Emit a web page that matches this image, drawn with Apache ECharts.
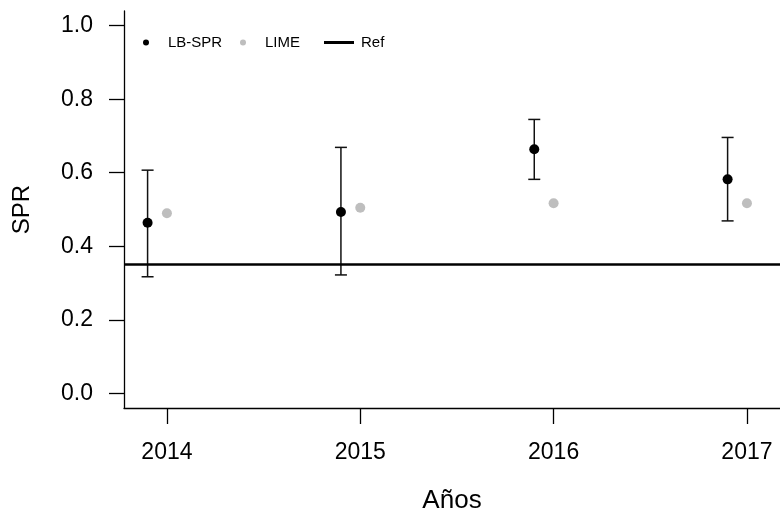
<!DOCTYPE html>
<html>
<head>
<meta charset="utf-8">
<script src="https://cdn.jsdelivr.net/npm/echarts@6/dist/echarts.min.js"></script>
<style>
  html, body { margin: 0; padding: 0; background: #fff; }
  #main { width: 780px; height: 515px; }
</style>
</head>
<body>
<div id="main"></div>
<script>
var years = [2014, 2015, 2016, 2017];
var lbX = [2013.9, 2014.9, 2015.9, 2016.9];
var lbSpr = [0.464, 0.493, 0.664, 0.582];
var lbLow = [0.317, 0.322, 0.582, 0.469];
var lbHigh = [0.607, 0.669, 0.745, 0.696];
var lime = [0.49, 0.505, 0.517, 0.517];
var refValue = 0.35;
var yTicks = [0, 0.2, 0.4, 0.6, 0.8, 1.0];

var chart = echarts.init(document.getElementById('main'));
var font = '"Liberation Sans", Arial, sans-serif';

var lbData = [], limeData = [], errData = [];
for (var i = 0; i < years.length; i++) {
	lbData.push([lbX[i], lbSpr[i]]);
	limeData.push([years[i], lime[i]]);
	errData.push([lbX[i], lbLow[i], lbHigh[i]]);
}

var option = {
	animation: false,
	backgroundColor: '#fff',
	textStyle: { fontFamily: font },
	grid: { left: 124, right: 0, top: 11, bottom: 107, outerBoundsMode: 'none', containLabel: false },
	legend: [
		{
			data: ['LB-SPR'], left: 138, top: 30,
			icon: 'circle', itemWidth: 6, itemHeight: 6,
			textStyle: { fontSize: 15, color: '#000', fontFamily: font, padding: [0, 0, 0, 14] }
		},
		{
			data: ['LIME'], left: 235, top: 30,
			icon: 'circle', itemWidth: 6, itemHeight: 6,
			textStyle: { fontSize: 15, color: '#000', fontFamily: font, padding: [0, 0, 0, 14] }
		},
		{
			data: [{ name: 'Ref', itemStyle: { color: '#000' } }], left: 319, top: 30,
			icon: 'rect', itemWidth: 30, itemHeight: 3,
			textStyle: { fontSize: 15, color: '#000', fontFamily: font, padding: [0, 0, 0, 2] }
		}
	],
	xAxis: {
		type: 'value',
		min: 2013.778,
		max: 2017.171,
		name: 'Años',
		nameLocation: 'middle',
		nameGap: 80,
		nameTextStyle: { fontSize: 26, color: '#000', fontFamily: font },
		axisLine: { onZero: false, lineStyle: { color: '#000', width: 1.3 } },
		axisTick: { customValues: years, length: 16, lineStyle: { color: '#000', width: 1.3 } },
		axisLabel: { customValues: years, margin: 33, fontSize: 23, color: '#000', formatter: function (v) { return String(v); } },
		splitLine: { show: false }
	},
	yAxis: {
		type: 'value',
		min: -0.04,
		max: 1.04,
		name: 'SPR',
		nameLocation: 'middle',
		nameGap: 90,
		nameRotate: 90,
		nameTextStyle: { fontSize: 24, color: '#000', fontFamily: font },
		axisLine: { show: true, onZero: false, lineStyle: { color: '#000', width: 1.3 } },
		axisTick: { show: true, customValues: yTicks, length: 15, lineStyle: { color: '#000', width: 1.3 } },
		axisLabel: { customValues: yTicks, margin: 31, fontSize: 23, color: '#000', formatter: function (v) { return v.toFixed(1); } },
		splitLine: { show: false }
	},
	series: [
		{
			name: 'err',
			type: 'custom',
			silent: true,
			data: errData,
			renderItem: function (params, api) {
				var x = api.value(0);
				var lo = api.coord([x, api.value(1)]);
				var hi = api.coord([x, api.value(2)]);
				var w = 6;
				var st = { stroke: '#111', lineWidth: 1.5 };
				return {
					type: 'group',
					children: [
						{ type: 'line', shape: { x1: lo[0], y1: lo[1], x2: hi[0], y2: hi[1] }, style: st },
						{ type: 'line', shape: { x1: lo[0] - w, y1: lo[1], x2: lo[0] + w, y2: lo[1] }, style: st },
						{ type: 'line', shape: { x1: hi[0] - w, y1: hi[1], x2: hi[0] + w, y2: hi[1] }, style: st }
					]
				};
			},
			z: 2
		},
		{
			name: 'LB-SPR',
			type: 'scatter',
			data: lbData,
			symbolSize: 10,
			itemStyle: { color: '#000', opacity: 1 },
			z: 3
		},
		{
			name: 'LIME',
			type: 'scatter',
			data: limeData,
			symbolSize: 10,
			itemStyle: { color: '#bebebe', opacity: 1 },
			z: 3
		},
		{
			name: 'Ref',
			type: 'line',
			data: [],
			itemStyle: { color: '#000' },
			lineStyle: { color: '#000', width: 2.5 },
			markLine: {
				silent: true,
				symbol: 'none',
				label: { show: false },
				lineStyle: { color: '#000', width: 2.5, type: 'solid' },
				data: [{ yAxis: refValue }]
			}
		}
	]
};
chart.setOption(option);
</script>
</body>
</html>
